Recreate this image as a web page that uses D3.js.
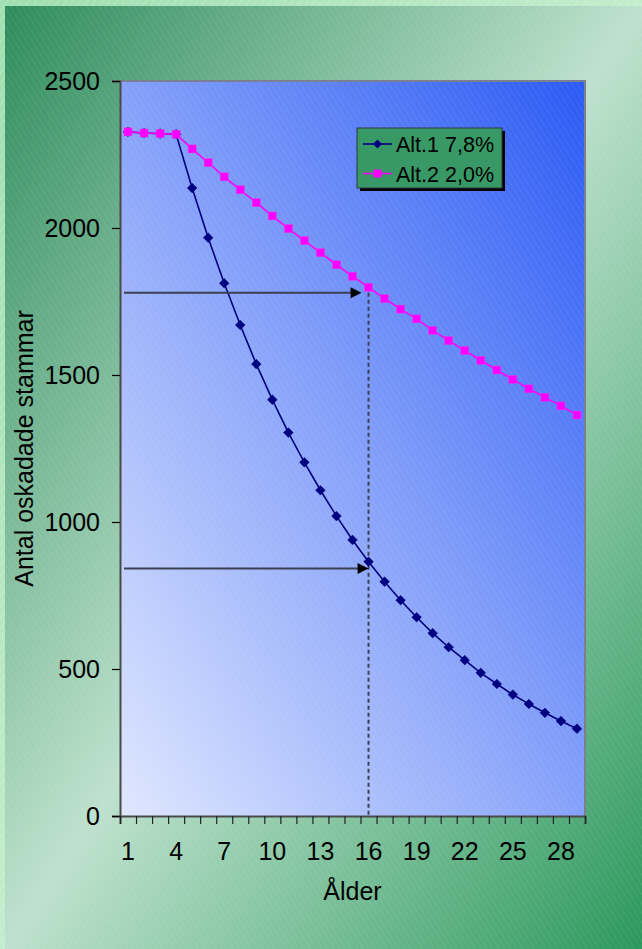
<!DOCTYPE html>
<html>
<head>
<meta charset="utf-8">
<script src="https://cdn.jsdelivr.net/npm/d3@7"></script>
<style>
  html, body { margin: 0; padding: 0; background: #ffffff; }
  svg { display: block; font-family: "Liberation Sans", Arial, sans-serif; }
</style>
</head>
<body>
<div id="chart"></div>
<script>
// ---- Data ----
const ages = [1, 2, 3, 4, 5, 6, 7, 8, 9, 10, 11, 12, 13, 14, 15, 16, 17, 18, 19, 20, 21, 22, 23, 24, 25, 26, 27, 28, 29];
const alt1 = [2327, 2323, 2321, 2319, 2136, 1967, 1812, 1670, 1537, 1416, 1304, 1203, 1108, 1020, 939, 865, 797, 734, 676, 622, 574, 530, 487, 449, 413, 381, 351, 323, 297];
const alt2 = [2327, 2323, 2321, 2319, 2269, 2222, 2174, 2130, 2086, 2041, 1998, 1957, 1916, 1875, 1836, 1798, 1760, 1724, 1691, 1652, 1617, 1583, 1550, 1517, 1485, 1453, 1424, 1395, 1364];
const seriesNames = ["Alt.1 7,8%", "Alt.2 2,0%"];
const xTickLabels = [1, 4, 7, 10, 13, 16, 19, 22, 25, 28];
const yTicks = [0, 500, 1000, 1500, 2000, 2500];
const arrowLevels = [1780, 842];   // annotation arrows (value read at age 16)
const arrowAge = 16;
const xTitle = "Ålder";
const yTitle = "Antal oskadade stammar";

// ---- Layout ----
const W = 642, H = 949;
const plot = { left: 120, top: 81, right: 585, bottom: 816 };

const svg = d3.select("#chart").append("svg").attr("width", W).attr("height", H);
const defs = svg.append("defs");

// Outer light frame gradient
const gOuter = defs.append("linearGradient").attr("id", "outerGrad")
  .attr("x1", 0).attr("y1", 0).attr("x2", 1).attr("y2", 1);
gOuter.append("stop").attr("offset", 0).attr("stop-color", "#9fdfb0");
gOuter.append("stop").attr("offset", 1).attr("stop-color", "#e6fbe8");

// Main background gradient: dark -> light (anti-diagonal band) -> dark
const gBg = defs.append("linearGradient").attr("id", "bgGrad")
  .attr("x1", 0).attr("y1", 0).attr("x2", 1).attr("y2", 1);
gBg.append("stop").attr("offset", 0).attr("stop-color", "#2f8c5c");
gBg.append("stop").attr("offset", 0.5).attr("stop-color", "#bde1cd");
gBg.append("stop").attr("offset", 1).attr("stop-color", "#2c985c");

// Plot area gradient: light bottom-left -> dark blue top-right
const gPlot = defs.append("linearGradient").attr("id", "plotGrad")
  .attr("x1", 0).attr("y1", 1).attr("x2", 1).attr("y2", 0);
gPlot.append("stop").attr("offset", 0).attr("stop-color", "#dfe7ff");
gPlot.append("stop").attr("offset", 1).attr("stop-color", "#2b5af4");

// Hatch pattern
const pat = defs.append("pattern").attr("id", "hatch")
  .attr("patternUnits", "userSpaceOnUse").attr("width", 5).attr("height", 5)
  .attr("patternTransform", "rotate(-32)");
pat.append("line").attr("x1", 0).attr("y1", 0).attr("x2", 0).attr("y2", 5)
  .attr("stroke", "#ffffff").attr("stroke-opacity", 0.14).attr("stroke-width", 1);
const pat2 = defs.append("pattern").attr("id", "hatch2")
  .attr("patternUnits", "userSpaceOnUse").attr("width", 6).attr("height", 6)
  .attr("patternTransform", "rotate(35)");
pat2.append("line").attr("x1", 0).attr("y1", 0).attr("x2", 0).attr("y2", 6)
  .attr("stroke", "#ffffff").attr("stroke-opacity", 0.35).attr("stroke-width", 1);

// Backgrounds
svg.append("rect").attr("width", W).attr("height", H).attr("fill", "url(#outerGrad)");
svg.append("rect").attr("width", W).attr("height", H).attr("fill", "url(#hatch2)");
svg.append("rect").attr("x", 5).attr("y", 6).attr("width", W - 5).attr("height", H - 6).attr("fill", "url(#bgGrad)");
svg.append("rect").attr("x", 5).attr("y", 6).attr("width", W - 5).attr("height", H - 6).attr("fill", "url(#hatch)");

// Scales
const x = d3.scaleBand().domain(ages).range([plot.left, plot.right]).padding(0);
const xc = a => x(a) + x.bandwidth() / 2;
const xEdge = d3.scaleLinear().domain([0, ages.length]).range([plot.left, plot.right]);
const y = d3.scaleLinear().domain([0, 2500]).range([plot.bottom, plot.top]);

// Plot area
svg.append("rect").attr("x", plot.left).attr("y", plot.top)
  .attr("width", plot.right - plot.left).attr("height", plot.bottom - plot.top)
  .attr("fill", "url(#plotGrad)");
svg.append("rect").attr("x", plot.left).attr("y", plot.top)
  .attr("width", plot.right - plot.left).attr("height", plot.bottom - plot.top)
  .attr("fill", "url(#hatch)");
// top & right border
svg.append("path")
  .attr("d", `M${plot.left},${plot.top}H${plot.right}V${plot.bottom}`)
  .attr("fill", "none").attr("stroke", "#7a8090").attr("stroke-width", 2);

// Y axis
const yAxis = svg.append("g").attr("transform", `translate(${plot.left},0)`)
  .call(d3.axisLeft(y).tickValues(yTicks).tickSize(8).tickPadding(12).tickFormat(d3.format("d")));
yAxis.select(".domain").attr("stroke", "#4a4a4a").attr("stroke-width", 2);
yAxis.selectAll(".tick line").attr("stroke", "#000").attr("stroke-width", 1.2);
yAxis.selectAll(".tick text").attr("font-size", 25).attr("fill", "#000")
  .attr("font-family", "Liberation Sans, Arial, sans-serif");

// X axis: boundary ticks
const xTicksG = svg.append("g").attr("transform", `translate(0,${plot.bottom})`)
  .call(d3.axisBottom(xEdge).tickValues(d3.range(0, ages.length + 1)).tickSize(8).tickFormat(""));
xTicksG.select(".domain").attr("stroke", "#4a4a4a").attr("stroke-width", 2);
xTicksG.selectAll(".tick line").attr("stroke", "#222").attr("stroke-width", 1.2);
// X axis labels
const xLab = svg.append("g").attr("transform", `translate(0,${plot.bottom})`)
  .call(d3.axisBottom(x).tickValues(xTickLabels).tickSize(0).tickPadding(26));
xLab.select(".domain").remove();
xLab.selectAll(".tick text").attr("font-size", 25).attr("fill", "#000")
  .attr("font-family", "Liberation Sans, Arial, sans-serif");

// Axis titles
svg.append("text").attr("x", (plot.left + plot.right) / 2).attr("y", 900)
  .attr("text-anchor", "middle").attr("font-size", 25).attr("fill", "#000").text(xTitle);
svg.append("text")
  .attr("transform", `translate(33,${(plot.top + plot.bottom) / 2}) rotate(-90)`)
  .attr("text-anchor", "middle").attr("font-size", 25).attr("fill", "#000").text(yTitle);

// Dashed guide at age 16
svg.append("line")
  .attr("x1", xc(arrowAge)).attr("x2", xc(arrowAge))
  .attr("y1", y(arrowLevels[0])).attr("y2", y(0))
  .attr("stroke", "#3c4256").attr("stroke-width", 2).attr("stroke-dasharray", "4,3");

// Series
const line = d3.line().x((d, i) => xc(ages[i])).y(d => y(d));
svg.append("path").datum(alt1).attr("d", line)
  .attr("fill", "none").attr("stroke", "#000080").attr("stroke-width", 1.6);
svg.selectAll(".m1").data(alt1).join("path").attr("class", "m1")
  .attr("d", d3.symbol(d3.symbolDiamond2, 60))
  .attr("transform", (d, i) => `translate(${xc(ages[i])},${y(d)})`)
  .attr("fill", "#000080").attr("stroke", "#000080").attr("stroke-width", 0.5);

svg.append("path").datum(alt2).attr("d", line)
  .attr("fill", "none").attr("stroke", "#ff00ff").attr("stroke-width", 1.6);
svg.selectAll(".m2").data(alt2).join("rect").attr("class", "m2")
  .attr("x", (d, i) => xc(ages[i]) - 4).attr("y", d => y(d) - 4)
  .attr("width", 8).attr("height", 8)
  .attr("fill", "#ff00ff").attr("stroke", "#e040e0").attr("stroke-width", 0.5);

// Annotation arrows
const arrowEnds = [xc(arrowAge) - 7, xc(arrowAge)];
arrowLevels.forEach((v, k) => {
  const yy = y(v), x0 = plot.left + 4, x1 = arrowEnds[k];
  svg.append("line").attr("x1", x0).attr("x2", x1 - 10).attr("y1", yy).attr("y2", yy)
    .attr("stroke", "#3a3f52").attr("stroke-width", 2);
  svg.append("path")
    .attr("d", `M${x1},${yy}L${x1 - 11},${yy - 5.5}L${x1 - 11},${yy + 5.5}Z`)
    .attr("fill", "#000");
});

// Legend
const lg = { x: 357, y: 128, w: 145, h: 60 };
svg.append("rect").attr("x", lg.x + 3).attr("y", lg.y + 3).attr("width", lg.w).attr("height", lg.h).attr("fill", "#000");
svg.append("rect").attr("x", lg.x).attr("y", lg.y).attr("width", lg.w).attr("height", lg.h)
  .attr("fill", "#389866").attr("stroke", "#2a3a3a").attr("stroke-width", 1);
const legendColors = ["#000080", "#ff00ff"];
seriesNames.forEach((name, k) => {
  const ly = lg.y + 16 + k * 29.5;
  svg.append("line").attr("x1", lg.x + 6).attr("x2", lg.x + 35).attr("y1", ly).attr("y2", ly)
    .attr("stroke", legendColors[k]).attr("stroke-width", 1.6);
  if (k === 0) {
    svg.append("path").attr("d", d3.symbol(d3.symbolDiamond2, 50))
      .attr("transform", `translate(${lg.x + 20.5},${ly})`).attr("fill", legendColors[k]);
  } else {
    svg.append("rect").attr("x", lg.x + 16.5).attr("y", ly - 4).attr("width", 8).attr("height", 8)
      .attr("fill", legendColors[k]);
  }
  svg.append("text").attr("x", lg.x + 39).attr("y", ly + 8).attr("font-size", 21.5)
    .attr("fill", "#000").text(name);
});
</script>
</body>
</html>
